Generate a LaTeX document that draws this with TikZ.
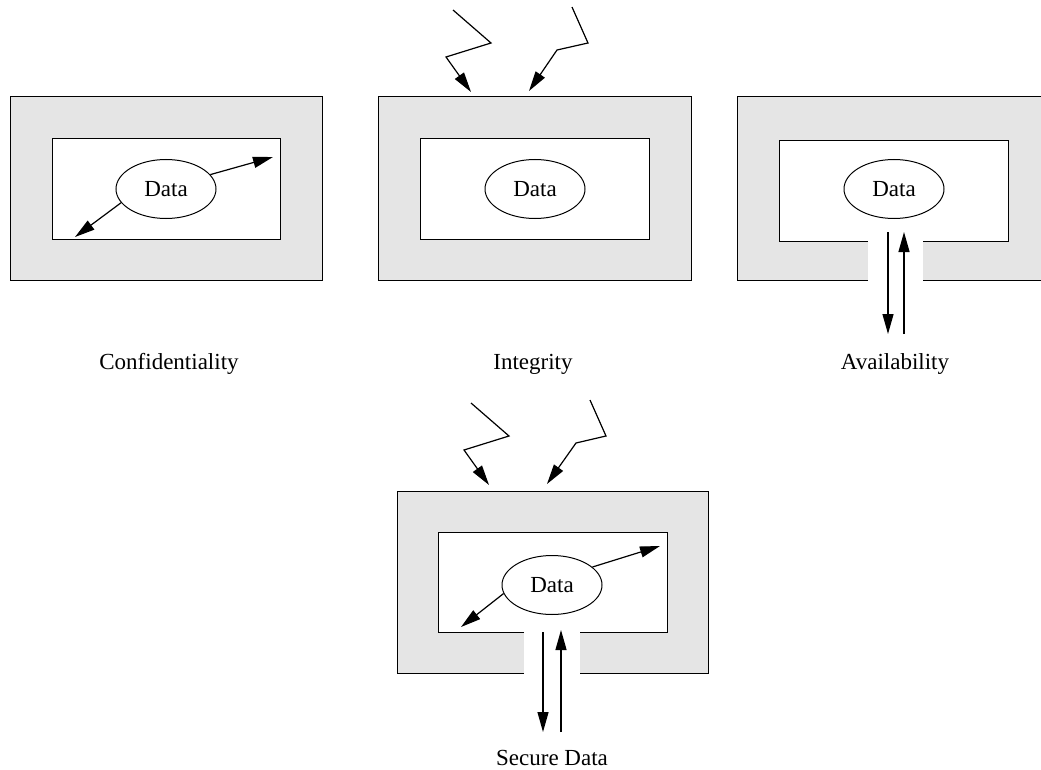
\documentclass[tikz,border=0pt]{standalone}
\usepackage{fontspec}
\setmainfont{Liberation Serif}
\usetikzlibrary{shapes.geometric,arrows.meta}
\begin{document}
\begin{tikzpicture}[x=1pt,y=-1pt,
  ring/.style={fill=gray!20,draw=black,line width=1pt},
  hole/.style={fill=white,draw=black,line width=1pt},
  border/.style={draw=black,line width=1pt},
  datanode/.style={ellipse,draw,line width=1pt,minimum width=100pt,minimum height=59pt,inner sep=0pt,font=\fontsize{23}{27}\selectfont},
  flow/.style={line width=1.2pt,-{Triangle[length=20pt,width=11pt]}},
  caption/.style={anchor=base,font=\fontsize{23}{27}\selectfont}]
\useasboundingbox (0,0) rectangle (1041,770);
\clip (0,0) rectangle (1041,770);
\fill[white] (0,0) rectangle (1041,770);

% Confidentiality
\draw[ring] (10,97) rectangle (322,280);
\draw[hole] (52,139) rectangle (280,239);
\node[datanode] (d1) at (166,189) {Data};
\coordinate (c1a) at (273,157);
\coordinate (c1b) at (75,237);
\draw[flow] (d1.18) -- (c1a);
\draw[flow] (d1.197) -- (c1b);
\node[caption] (t1) at (169,369) {Confidentiality};

% Integrity
\draw[ring] (378,97) rectangle (691,280);
\draw[hole] (420,139) rectangle (649,239);
\node[datanode] (d2) at (535,189) {Data};
\coordinate (i1s) at (453,10);
\coordinate (i1m) at (491,43);
\coordinate (i1n) at (446,57);
\coordinate (i1e) at (471,92);
\coordinate (i2s) at (572,7);
\coordinate (i2m) at (588,43);
\coordinate (i2n) at (557,50);
\coordinate (i2e) at (529,91);
\draw[flow] (i1s) -- (i1m) -- (i1n) -- (i1e);
\draw[flow] (i2s) -- (i2m) -- (i2n) -- (i2e);
\node[caption] (t2) at (533,369) {Integrity};

% Availability
\fill[gray!20] (737,97) rectangle (1048,280);
\fill[white] (779,141) rectangle (1008,241);
\fill[white] (868,240) rectangle (923,282);
\draw[border] (868,280) -- (737,280) -- (737,97) -- (1048,97) -- (1048,280) -- (923,280);
\draw[border] (868,241) -- (779,241) -- (779,141) -- (1008,141) -- (1008,241) -- (923,241);
\node[datanode] (d3) at (894,189) {Data};
\coordinate (a3s) at (888,232);
\coordinate (a3e) at (888,334);
\coordinate (a3u) at (904,334);
\coordinate (a3v) at (904,232);
\draw[flow] (a3s) -- (a3e);
\draw[flow] (a3u) -- (a3v);
\node[caption] (t3) at (895,369) {Availability};

% Secure Data
\fill[gray!20] (397,491) rectangle (708,673);
\fill[white] (438,532) rectangle (667,632);
\fill[white] (524,631) rectangle (580,675);
\draw[border] (524,673) -- (397,673) -- (397,491) -- (708,491) -- (708,673) -- (580,673);
\draw[border] (524,632) -- (438,632) -- (438,532) -- (667,532) -- (667,632) -- (580,632);
\node[datanode] (d4) at (552,585) {Data};
\coordinate (s1) at (660,546);
\coordinate (s2) at (461,627);
\draw[flow] (d4.24) -- (s1);
\draw[flow] (d4.190) -- (s2);
\coordinate (s3) at (543,632);
\coordinate (s4) at (543,732);
\coordinate (s5) at (561,732);
\coordinate (s6) at (561,630);
\draw[flow] (s3) -- (s4);
\draw[flow] (s5) -- (s6);
\coordinate (b1s) at (471,403);
\coordinate (b1m) at (509,436);
\coordinate (b1n) at (464,450);
\coordinate (b1e) at (489,485);
\coordinate (b2s) at (590,400);
\coordinate (b2m) at (606,436);
\coordinate (b2n) at (576,443);
\coordinate (b2e) at (547,484);
\draw[flow] (b1s) -- (b1m) -- (b1n) -- (b1e);
\draw[flow] (b2s) -- (b2m) -- (b2n) -- (b2e);
\node[caption] (t4) at (552,765) {Secure Data};
\end{tikzpicture}
\end{document}
